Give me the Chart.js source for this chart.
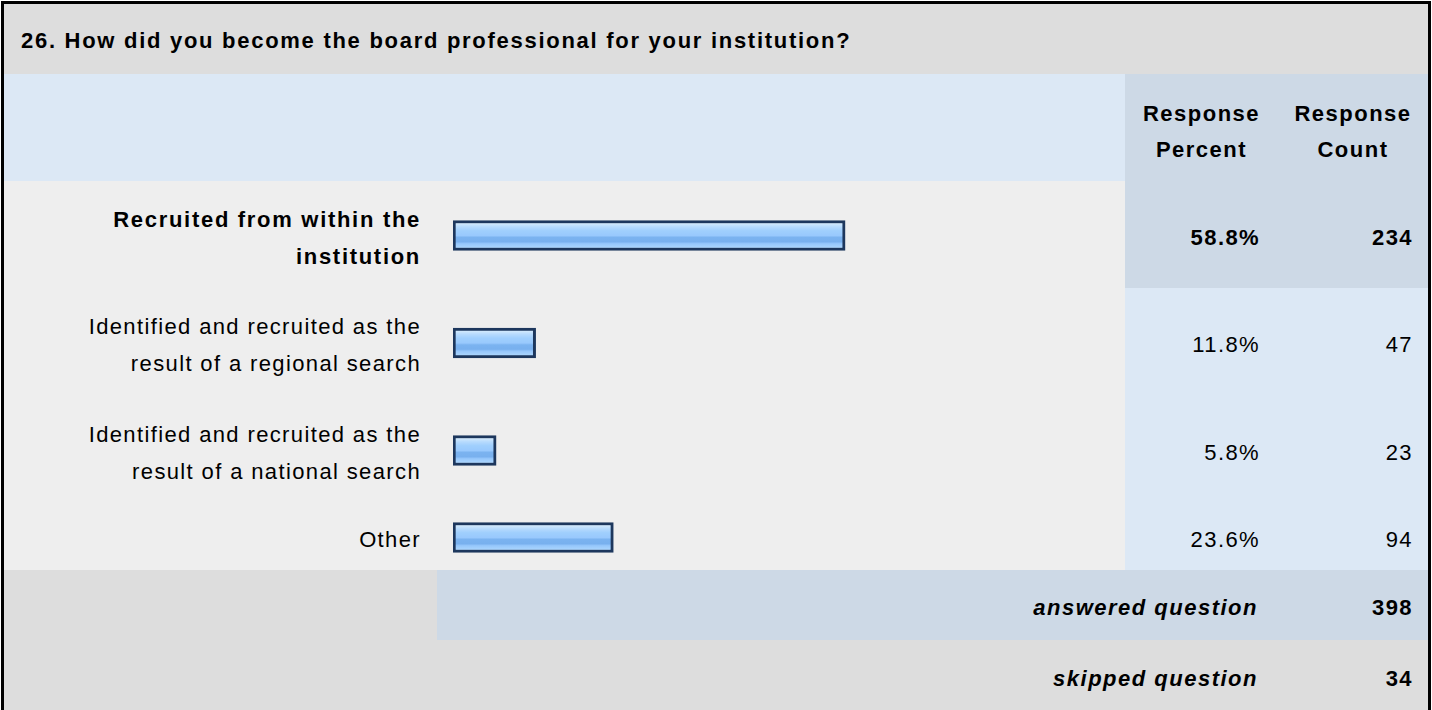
<!DOCTYPE html>
<html>
<head>
<meta charset="utf-8">
<script src="https://cdn.jsdelivr.net/npm/chart.js@4"></script>
<style>
  html, body { margin: 0; padding: 0; background: #fff; overflow: hidden; }
  body { width: 1432px; height: 710px; position: relative; font-family: Arial, "Liberation Sans", Helvetica, sans-serif; color: #000; }
  .cell { position: absolute; box-sizing: border-box; display: flex; align-items: center; padding-top: 6px; font-size: 22px; letter-spacing: 1.4px; white-space: nowrap; }
  .frame { position: absolute; left: 1px; top: 1px; width: 1424px; height: 740px; border: 3px solid #000; pointer-events: none; }
  canvas { position: absolute; }
</style>
</head>
<body>
<div id="page"></div>
<div class="frame"></div>
<script>
// question text
const title = "26. How did you become the board professional for your institution?";
const headers = [["Response", "Percent"], ["Response", "Count"]];

// answer options, one array of lines per row
const categories = [
    ["Recruited from within the", "institution"],
    ["Identified and recruited as the", "result of a regional search"],
    ["Identified and recruited as the", "result of a national search"],
    ["Other"]
];
const percents = [58.8, 11.8, 5.8, 23.6];
const counts = [234, 47, 23, 94];

const answeredCount = 398;
const skippedCount = 34;

// layout of the table (page pixels)
const colX = [4, 437, 1125, 1276, 1428];
const rowY = [181, 288, 396, 503, 570];

const page = document.getElementById('page');

function addCell(x, y, w, h, bg, html, extra) {
    const d = document.createElement('div');
    d.className = 'cell';
    d.style.left = x + 'px';
    d.style.top = y + 'px';
    d.style.width = w + 'px';
    d.style.height = h + 'px';
    d.style.background = bg;
    if (extra) Object.assign(d.style, extra);
    d.innerHTML = html;
    page.appendChild(d);
    return d;
}

// title bar
addCell(4, 4, 1424, 70, '#dddddd', title, { fontWeight: 'bold', paddingLeft: '17px', paddingTop: '3px', letterSpacing: '1.72px' });

// header row
addCell(colX[0], 74, colX[2] - colX[0], 107, '#dce8f5', '');
headers.forEach((h, i) => {
    addCell(colX[2 + i], 74, colX[3 + i] - colX[2 + i], 107, '#cdd9e6', h.join('<br>'),
        { fontWeight: 'bold', justifyContent: 'center', textAlign: 'center', lineHeight: '36px', paddingLeft: '2px', paddingTop: '8px', letterSpacing: '1.5px' });
});

// answer rows
categories.forEach((lines, i) => {
    const y = rowY[i];
    const h = rowY[i + 1] - rowY[i];
    const bold = i === 0 ? 'bold' : 'normal';
    const spacing = i === 0 ? '1.7px' : '1.37px';
    addCell(colX[0], y, colX[1] - colX[0], h, '#eeeeee', lines.join('<br>'),
        { fontWeight: bold, justifyContent: 'flex-end', textAlign: 'right', lineHeight: '37px', paddingRight: '16px', letterSpacing: spacing });
    addCell(colX[1], y, colX[2] - colX[1], h, '#eeeeee', '');
    const valBg = i === 0 ? '#cdd9e6' : '#dce8f5';
    addCell(colX[2], y, colX[3] - colX[2], h, valBg, percents[i].toFixed(1) + '%',
        { fontWeight: bold, justifyContent: 'flex-end', paddingRight: '16px' });
    addCell(colX[3], y, colX[4] - colX[3], h, valBg, String(counts[i]),
        { fontWeight: bold, justifyContent: 'flex-end', paddingRight: '15px' });

    // one small bar chart per row
    const cv = document.createElement('canvas');
    cv.width = colX[2] - colX[1];
    cv.height = h;
    cv.style.left = colX[1] + 'px';
    cv.style.top = y + 'px';
    page.appendChild(cv);
    drawBar(cv, percents[i]);
});

// footer rows
addCell(colX[0], 570, colX[1] - colX[0], 70, '#dddddd', '');
addCell(colX[1], 570, colX[3] - colX[1], 70, '#cdd9e6', 'answered question',
    { fontWeight: 'bold', fontStyle: 'italic', justifyContent: 'flex-end', paddingRight: '18px', letterSpacing: '1.5px' });
addCell(colX[3], 570, colX[4] - colX[3], 70, '#cdd9e6', String(answeredCount),
    { fontWeight: 'bold', justifyContent: 'flex-end', paddingRight: '15px' });
addCell(colX[0], 640, colX[3] - colX[0], 72, '#dddddd', 'skipped question',
    { fontWeight: 'bold', fontStyle: 'italic', justifyContent: 'flex-end', paddingRight: '18px', letterSpacing: '1.5px' });
addCell(colX[3], 640, colX[4] - colX[3], 72, '#dddddd', String(skippedCount),
    { fontWeight: 'bold', justifyContent: 'flex-end', paddingRight: '15px' });

function barFill(c) {
    const chart = c.chart;
    const a = chart.chartArea;
    if (!a) return '#99ccff';
    const mid = (a.top + a.bottom) / 2;
    const g = chart.ctx.createLinearGradient(0, mid - 12, 0, mid + 12);
    g.addColorStop(0, '#d2e9fc');
    g.addColorStop(0.14, '#b6dafd');
    g.addColorStop(0.3, '#a0cffd');
    g.addColorStop(0.5, '#99c9fd');
    g.addColorStop(0.58, '#7bb3f0');
    g.addColorStop(0.76, '#78b0ee');
    g.addColorStop(0.84, '#96c7fc');
    g.addColorStop(1, '#a9d4fd');
    return g;
}

function drawBar(canvas, value) {
    // start a little below zero so the thin bars keep their width like the original
    const start = -0.75;
    new Chart(canvas.getContext('2d'), {
        type: 'bar',
        data: {
            labels: [''],
            datasets: [{
                data: [value],
                base: start,
                backgroundColor: barFill,
                borderColor: '#1d375d',
                borderWidth: 3,
                borderSkipped: false,
                barThickness: 30
            }]
        },
        options: {
            indexAxis: 'y',
            responsive: false,
            animation: false,
            events: [],
            layout: { padding: { left: 16, right: 8.6, top: 2, bottom: 0 } },
            scales: {
                x: { display: false, min: start, max: 100 },
                y: { display: false }
            },
            plugins: { legend: { display: false }, tooltip: { enabled: false } }
        }
    });
}
</script>
</body>
</html>
